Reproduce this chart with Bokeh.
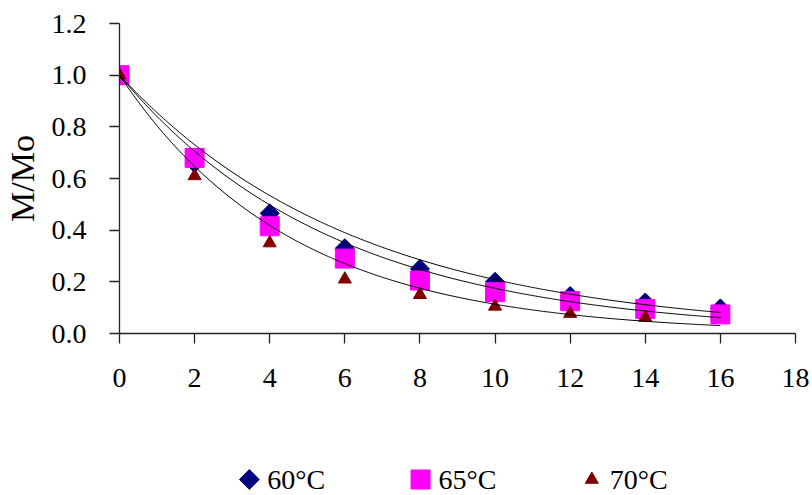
import numpy as np
from bokeh.plotting import figure
from bokeh.models import FixedTicker, PrintfTickFormatter, Range1d
from bokeh.layouts import column
from bokeh.embed import file_html
from bokeh.resources import INLINE
from bokeh.core.properties import value

# ---- data ----
time_h = [0, 2, 4, 6, 8, 10, 12, 14, 16]
mr_60 = [1.0, 0.66, 0.465, 0.33, 0.25, 0.20, 0.145, 0.12, 0.097]
mr_65 = [1.0, 0.68, 0.415, 0.29, 0.205, 0.16, 0.125, 0.095, 0.074]
time_70 = [0, 2, 4, 6, 8, 10, 12, 14]
mr_70 = [1.0, 0.61, 0.35, 0.21, 0.15, 0.105, 0.077, 0.062]
series_labels = ["60°C", "65°C", "70°C"]
x_ticks = [0, 2, 4, 6, 8, 10, 12, 14, 16, 18]
y_ticks = [0.0, 0.2, 0.4, 0.6, 0.8, 1.0, 1.2]

C60, C65, C70 = "#000080", "#FF00FF", "#800000"
FONT = "Liberation Serif"

W = 812
BL, BR = 118, 17          # left / right borders (frame spans 118..795)


def fit_k(t, m):
    """Exponential model M/Mo = exp(-k t) fitted in log space through the origin."""
    t = np.asarray(t, float)
    m = np.asarray(m, float)
    return -np.sum(t * np.log(m)) / np.sum(t * t)


p = figure(width=W, height=448, x_range=Range1d(0, 18), y_range=Range1d(0, 1.2),
           output_backend="svg", toolbar_location=None,
           min_border_left=BL, min_border_right=BR, min_border_top=23, min_border_bottom=115)
p.outline_line_color = None
p.xgrid.grid_line_color = None
p.ygrid.grid_line_color = None
p.background_fill_color = "white"
p.border_fill_color = "white"

p.xaxis.ticker = FixedTicker(ticks=x_ticks)
p.yaxis.ticker = FixedTicker(ticks=y_ticks)
p.yaxis.formatter = PrintfTickFormatter(format="%.1f")
for ax in (p.xaxis[0], p.yaxis[0]):
    ax.axis_line_color = "#222222"
    ax.axis_line_width = 1.3
    ax.major_tick_line_color = "#222222"
    ax.major_tick_line_width = 1.3
    ax.major_tick_out = 10
    ax.major_tick_in = 0
    ax.minor_tick_out = 0
    ax.minor_tick_in = 0
    ax.major_label_text_font = FONT
    ax.major_label_text_font_size = "28px"
    ax.major_label_text_color = "black"
p.xaxis.major_label_standoff = 25
p.yaxis.major_label_standoff = 23
p.yaxis.axis_label = "M/Mo"
p.yaxis.axis_label_text_font = FONT
p.yaxis.axis_label_text_font_size = "34px"
p.yaxis.axis_label_text_font_style = "normal"
p.yaxis.axis_label_text_color = "black"
p.yaxis.axis_label_standoff = 8

# markers
p.scatter(time_h, mr_60, marker="square", angle=np.pi / 4, size=13.5,
          fill_color=C60, line_color=C60)
p.scatter(time_h, mr_65, marker="square", size=19, fill_color=C65, line_color=C65)
p.scatter(time_70, mr_70, marker="triangle", size=13, fill_color=C70, line_color=C70)

# fitted model curves
tt = np.linspace(0, 16, 300)
for t, m in ((time_h, mr_60), (time_h, mr_65), (time_70, mr_70)):
    k = fit_k(t, m)
    p.line(tt, np.exp(-k * tt), line_color="black", line_width=1)

# ---- legend strip (x in page pixels) ----
LH = 47
leg = figure(width=W, height=LH, x_range=Range1d(BL, W - BR), y_range=Range1d(0, LH),
             output_backend="svg", toolbar_location=None,
             x_axis_type=None, y_axis_type=None,
             min_border_left=BL, min_border_right=BR, min_border_top=0, min_border_bottom=0)
leg.outline_line_color = None
leg.background_fill_color = "white"
leg.border_fill_color = "white"

pitch = 171.5
x0 = 248
yc = 16
key_x = [x0 + i * pitch for i in range(3)]
leg.scatter([key_x[0]], [yc], marker="square", angle=np.pi / 4, size=14,
            fill_color=C60, line_color=C60)
leg.scatter([key_x[1]], [yc], marker="square", size=19, fill_color=C65, line_color=C65)
leg.scatter([key_x[2]], [yc], marker="triangle", size=13, fill_color=C70, line_color=C70)
leg.text([kx + 18 for kx in key_x], [yc] * 3, text=series_labels,
         text_font=value(FONT), text_font_size="28px", text_baseline="middle",
         text_align="left", text_color="black")

layout = column(p, leg, spacing=0)
open("out.html", "w").write(file_html(layout, INLINE))
